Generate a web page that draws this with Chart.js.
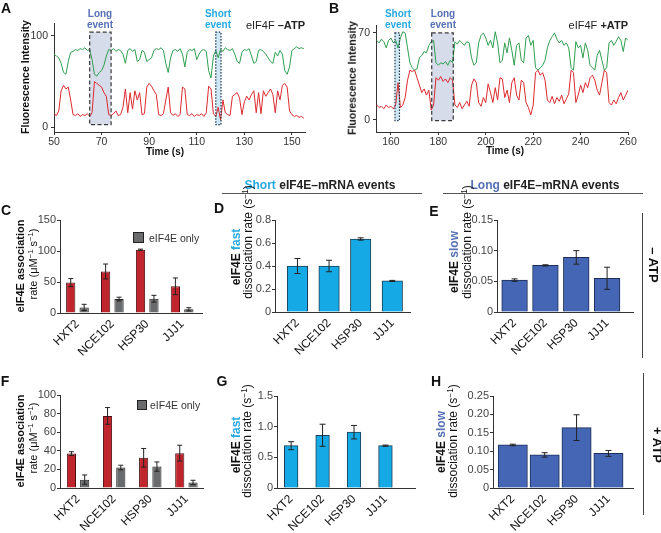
<!DOCTYPE html>
<html>
<head>
<meta charset="utf-8">
<script src="https://cdn.jsdelivr.net/npm/chart.js@4.4.1/dist/chart.umd.min.js"></script>
<style>
  body { margin: 0; background: #fff; font-family: "Liberation Sans", Arial, sans-serif; color: #222; }
  #fig { position: relative; width: 661px; height: 533px; overflow: hidden; }
  #fig canvas { position: absolute; }
  .t { position: absolute; white-space: nowrap; line-height: 1; }
  .t sup { font-size: 0.7em; line-height: 0; vertical-align: 0.45em; }
  .hr { position: absolute; height: 0; border-top: 1.5px solid #555; }
  .vr { position: absolute; width: 0; border-left: 1.5px solid #444; }
  .sq { position: absolute; background: #6a6b6d; border: 1px solid #222; box-sizing: border-box; }
</style>
</head>
<body>
<div id="fig"></div>
<script>
// ---- trace data (1 sample per second) ----
const traceA_t0 = 50;
const traceA_green = [
  80, 78, 76, 70, 60, 58, 72, 82, 83, 85,
  84, 86, 85, 87, 84, 85, 74, 58, 56, 60,
  62, 68, 78, 85, 84, 86, 83, 85, 84, 80,
  70, 84, 86, 83, 85, 72, 74, 84, 82, 72,
  74, 76, 84, 86, 85, 87, 84, 70, 60, 76,
  84, 85, 83, 86, 80, 66, 82, 85, 84, 86,
  74, 80, 84, 85, 83, 62, 54, 78, 84, 76,
  85, 83, 87, 85, 84, 86, 80, 72, 70, 82,
  85, 84, 86, 78, 70, 72, 84, 85, 83, 80,
  76, 72, 70, 82, 78, 84, 80, 62, 58, 66,
  84, 86, 88, 86, 87, 86
];
const traceA_red = [
  15, 13, 18, 40, 46, 42, 44, 30, 14, 13,
  15, 12, 14, 13, 15, 12, 16, 50, 48, 46,
  44, 38, 34, 14, 13, 15, 18, 13, 14, 22,
  42, 16, 38, 20, 40, 30, 38, 14, 15, 44,
  48, 45, 40, 36, 14, 13, 15, 30, 44, 16,
  13, 15, 12, 14, 44, 42, 14, 13, 15, 12,
  14, 13, 15, 12, 16, 45, 42, 15, 12, 22,
  8, 30, 16, 14, 13, 34, 36, 38, 32, 14,
  28, 34, 30, 36, 40, 16, 38, 15, 40, 34,
  38, 42, 36, 16, 40, 30, 46, 48, 44, 18,
  14, 12, 13, 11, 12, 10
];
const traceB_t0 = 154;
const traceB_green = [
  64, 62, 65, 63, 58, 64,
  66, 62, 64, 58, 66, 71, 70, 58, 46, 42,
  40, 41, 50, 52, 55, 54, 60, 63, 64, 46,
  44, 46, 45, 47, 44, 48, 46, 63, 61, 64,
  62, 60, 63, 62, 50, 44, 46, 62, 68, 70,
  66, 60, 64, 58, 71, 62, 46, 48, 62, 54,
  66, 56, 44, 60, 62, 48, 46, 66, 68, 60,
  64, 42, 40, 42, 44, 48, 58, 64, 67, 70,
  65, 62, 64, 60, 62, 58, 42, 40, 63, 58,
  60, 50, 62, 56, 44, 42, 40, 52, 56, 48,
  40, 42, 62, 64, 60, 63, 67, 64, 55, 66,
  64
];
const traceB_red = [
  12, 10, 11, 9, 12, 10,
  11, 9, 12, 30, 10, 12, 18, 32, 40, 39,
  40, 34, 28, 22, 25, 20, 24, 8, 12, 34,
  32, 35, 31, 33, 30, 34, 32, 12, 10, 14,
  9, 12, 15, 11, 28, 33, 30, 14, 11, 18,
  14, 29, 22, 14, 26, 16, 34, 33, 18, 24,
  14, 30, 34, 20, 16, 32, 30, 14, 10, 4,
  12, 38, 40, 36, 38, 32, 16, 14, 19, 13,
  18, 15, 20, 13, 17, 21, 40, 38, 14, 20,
  28, 22, 30, 26, 34, 36, 32, 24, 20, 30,
  40, 38, 14, 12, 16, 13, 18, 22, 16, 20,
  24
];
// event windows (s) and their intensity span
const longEventA = [65, 74];
const shortEventA = [118, 120.2];
const eventSpanA = [3, 104];
const longEventB = [177.2, 186.3];
const shortEventB = [161.7, 163.6];
const eventSpanB = [-0.5, 70];

const ticksA_x = [50, 70, 90, 110, 130, 150];
const ticksA_y = [0, 100];
const ticksB_x = [160, 180, 200, 220, 240, 260];
const ticksB_y = [0, 70];

// ---- bar data ----
const genes = ['HXT2', 'NCE102', 'HSP30', 'JJJ1'];

const assocMinusATP = [49, 67, 102, 43];
const assocMinusATP_err = [6.5, 12, 1, 13.5];
const assocOnlyMinus = [9, 22.5, 23, 6];
const assocOnlyMinus_err = [5, 3, 5.5, 2.5];

const fastMinusATP = [0.40, 0.40, 0.635, 0.27];
const fastMinusATP_err = [0.065, 0.05, 0.01, 0.005];
const slowMinusATP = [0.052, 0.076, 0.089, 0.055];
const slowMinusATP_err = [0.002, 0.001, 0.011, 0.018];

const assocPlusATP = [37, 77.5, 32.5, 37.5];
const assocPlusATP_err = [2, 9, 10, 8.5];
const assocOnlyPlus = [9, 22, 23, 6];
const assocOnlyPlus_err = [5, 2.5, 5, 2.3];

const fastPlusATP = [0.69, 0.86, 0.91, 0.69];
const fastPlusATP_err = [0.065, 0.18, 0.11, 0.01];
const slowPlusATP = [0.117, 0.090, 0.164, 0.094];
const slowPlusATP_err = [0.002, 0.006, 0.035, 0.008];

const ticksC = [0, 50, 100, 150];
const ticksD = [0, 0.2, 0.4, 0.6, 0.8];
const ticksE = [0, 0.05, 0.10, 0.15];
const ticksF = [0, 20, 40, 60, 80, 100];
const ticksG = [0, 0.5, 1.0, 1.5];
const ticksH = [0, 0.05, 0.10, 0.15, 0.20, 0.25];

// ---- colours ----
const GREEN = '#2f9e4f', RED = '#dc2a2e';
const CYAN = '#27a9e1', SLATE = '#5570b5';
const BAR_RED = '#c0242c', BAR_GRAY = '#6a6b6d', BAR_CYAN = '#15aae5', BAR_SLATE = '#4566b4';

Chart.defaults.font.family = '"Liberation Sans", Arial, sans-serif';
Chart.defaults.color = '#333';

const fig = document.getElementById('fig');

function txt(html, x, y, o = {}) {
  const d = document.createElement('div');
  d.className = 't';
  d.innerHTML = html;
  d.style.left = x + 'px';
  d.style.top = y + 'px';
  d.style.fontSize = (o.size || 11) + 'px';
  if (o.bold) d.style.fontWeight = 'bold';
  if (o.color) d.style.color = o.color;
  const ax = o.align === 'left' ? '0' : o.align === 'right' ? '-100%' : '-50%';
  d.style.transform = `translate(${ax},-50%)` + (o.rot ? ` rotate(${o.rot}deg)` : '');
  fig.appendChild(d);
}

function makeCanvas(box) {
  const c = document.createElement('canvas');
  c.width = box.w; c.height = box.h;
  c.style.left = box.left + 'px'; c.style.top = box.top + 'px';
  fig.appendChild(c);
  return c;
}

// fixes the chart area inside a canvas box
function fitArea(box, area) {
  return {
    padding: { left: 0, top: area.top - box.top, right: box.left + box.w - area.right, bottom: 0 },
    x: s => { s.height = box.top + box.h - area.bottom; },
    y: s => { s.width = area.left - box.left; }
  };
}

const eventBoxes = {
  id: 'eventBoxes',
  beforeDatasetsDraw(chart, args, opts) {
    const { x, y } = chart.scales, ctx = chart.ctx;
    opts.boxes.forEach(b => {
      const x0 = x.getPixelForValue(b.range[0]), x1 = x.getPixelForValue(b.range[1]);
      const y0 = y.getPixelForValue(b.span[1]), y1 = y.getPixelForValue(b.span[0]);
      ctx.save();
      ctx.fillStyle = b.fill;
      ctx.fillRect(x0, y0, x1 - x0, y1 - y0);
      ctx.restore();
    });
  },
  afterDatasetsDraw(chart, args, opts) {
    const { x, y } = chart.scales, ctx = chart.ctx;
    opts.boxes.forEach(b => {
      const x0 = x.getPixelForValue(b.range[0]), x1 = x.getPixelForValue(b.range[1]);
      const y0 = y.getPixelForValue(b.span[1]), y1 = y.getPixelForValue(b.span[0]);
      ctx.save();
      ctx.strokeStyle = b.stroke;
      ctx.lineWidth = 1.2;
      ctx.setLineDash(b.dash);
      ctx.strokeRect(x0, y0, x1 - x0, y1 - y0);
      ctx.restore();
    });
  }
};

const errorBars = {
  id: 'errorBars',
  afterDatasetsDraw(chart, args, opts) {
    const ctx = chart.ctx, yS = chart.scales.y;
    chart.data.datasets.forEach((ds, di) => {
      const meta = chart.getDatasetMeta(di);
      meta.data.forEach((bar, i) => {
        const v = ds.data[i].y, e = ds.errors[i];
        const top = yS.getPixelForValue(v + e), bot = yS.getPixelForValue(v - e);
        ctx.save();
        ctx.strokeStyle = '#222';
        ctx.lineWidth = 1;
        ctx.beginPath();
        ctx.moveTo(bar.x, top); ctx.lineTo(bar.x, bot);
        ctx.moveTo(bar.x - opts.cap, top); ctx.lineTo(bar.x + opts.cap, top);
        ctx.moveTo(bar.x - opts.cap, bot); ctx.lineTo(bar.x + opts.cap, bot);
        ctx.stroke();
        ctx.restore();
      });
    });
  }
};

function toPoints(t0, values) {
  return values.map((v, i) => ({ x: t0 + i, y: v }));
}

function traceChart(cfg) {
  const fit = fitArea(cfg.box, cfg.area);
  new Chart(makeCanvas(cfg.box), {
    type: 'line',
    data: {
      datasets: [
        { data: toPoints(cfg.t0, cfg.red), borderColor: RED, borderWidth: 1, pointRadius: 0, tension: 0 },
        { data: toPoints(cfg.t0, cfg.green), borderColor: GREEN, borderWidth: 1, pointRadius: 0, tension: 0 }
      ]
    },
    options: {
      responsive: false, animation: false, events: [],
      layout: { padding: fit.padding },
      plugins: { legend: { display: false }, tooltip: { enabled: false }, eventBoxes: { boxes: cfg.boxes } },
      scales: {
        x: {
          type: 'linear', min: cfg.xr[0], max: cfg.xr[1],
          afterBuildTicks: s => { s.ticks = cfg.xticks.map(v => ({ value: v })); },
          afterFit: fit.x,
          grid: { drawOnChartArea: false, tickLength: 3, color: '#333' },
          border: { color: '#333' },
          ticks: { font: { size: 10.5 }, color: '#333', padding: 1, maxRotation: 0 }
        },
        y: {
          min: cfg.yr[0], max: cfg.yr[1],
          afterBuildTicks: s => { s.ticks = cfg.yticks.map(v => ({ value: v })); },
          afterFit: fit.y,
          grid: { drawOnChartArea: false, tickLength: 3, color: '#333' },
          border: { color: '#333' },
          ticks: { font: { size: 10.5 }, color: '#333', padding: 3 }
        }
      }
    },
    plugins: [eventBoxes]
  });
}

function barChart(cfg) {
  const fit = fitArea(cfg.box, cfg.area);
  new Chart(makeCanvas(cfg.box), {
    type: 'bar',
    data: {
      datasets: cfg.series.map(s => Object.assign({
        data: s.values.map((v, i) => ({ x: i, y: v })),
        errors: s.errors,
        backgroundColor: s.color,
        borderColor: s.edge,
        borderWidth: 1
      }, cfg.barOpts))
    },
    options: {
      responsive: false, animation: false, events: [],
      layout: { padding: fit.padding },
      plugins: { legend: { display: false }, tooltip: { enabled: false }, errorBars: { cap: cfg.cap } },
      scales: {
        x: {
          type: 'linear', offset: false, min: cfg.xr[0], max: cfg.xr[1],
          afterBuildTicks: s => { s.ticks = genes.map((g, i) => ({ value: i })); },
          afterFit: fit.x,
          grid: { offset: false, drawOnChartArea: false, drawTicks: false },
          border: { color: '#333' },
          ticks: { callback: v => genes[v], autoSkip: false, minRotation: 45, maxRotation: 45, color: '#111', font: { size: 12 }, padding: 4 }
        },
        y: {
          min: 0, max: cfg.yticks[cfg.yticks.length - 1],
          afterBuildTicks: s => { s.ticks = cfg.yticks.map(v => ({ value: v })); },
          afterFit: fit.y,
          grid: { drawOnChartArea: false, tickLength: 3, color: '#333' },
          border: { color: '#333' },
          ticks: { callback: v => v === 0 ? '0' : v.toFixed(cfg.dec), color: '#444', font: { size: 11 }, padding: 1 }
        }
      }
    },
    plugins: [errorBars]
  });
}

// ---- A / B traces ----
const longStyle = { fill: '#d7dcea', stroke: '#3a3a3a', dash: [4, 2.5] };
const shortStyle = { fill: '#cde8f4', stroke: '#1f3550', dash: [1.5, 1.5] };

traceChart({
  box: { left: 0, top: 0, w: 320, h: 162 }, area: { left: 54, top: 23, right: 305, bottom: 132 },
  xr: [50, 155.5], yr: [-5, 114], xticks: ticksA_x, yticks: ticksA_y,
  t0: traceA_t0, green: traceA_green, red: traceA_red,
  boxes: [
    Object.assign({ range: longEventA, span: eventSpanA }, longStyle),
    Object.assign({ range: shortEventA, span: eventSpanA }, shortStyle)
  ]
});
traceChart({
  box: { left: 330, top: 0, w: 331, h: 162 }, area: { left: 376, top: 25, right: 628, bottom: 132 },
  xr: [153.7, 260], yr: [-9.7, 76.4], xticks: ticksB_x, yticks: ticksB_y,
  t0: traceB_t0, green: traceB_green, red: traceB_red,
  boxes: [
    Object.assign({ range: longEventB, span: eventSpanB }, longStyle),
    Object.assign({ range: shortEventB, span: eventSpanB }, shortStyle)
  ]
});

// ---- C - H bars ----
const pairOpts = { categoryPercentage: 0.77, barPercentage: 0.69 };

barChart({
  box: { left: 0, top: 200, w: 215, h: 162 }, area: { left: 60, top: 220, right: 202, bottom: 313 },
  xr: [-0.5, 3.57], yticks: ticksC, dec: 0, cap: 2.5, barOpts: pairOpts,
  series: [
    { values: assocMinusATP, errors: assocMinusATP_err, color: BAR_RED, edge: '#4a1014' },
    { values: assocOnlyMinus, errors: assocOnlyMinus_err, color: BAR_GRAY, edge: '#222' }
  ]
});
barChart({
  box: { left: 215, top: 200, w: 215, h: 162 }, area: { left: 275, top: 220, right: 410, bottom: 312 },
  xr: [-0.71, 3.56], yticks: ticksD, dec: 1, cap: 3, barOpts: { barThickness: 20.5 },
  series: [{ values: fastMinusATP, errors: fastMinusATP_err, color: BAR_CYAN, edge: '#1c3d52' }]
});
barChart({
  box: { left: 430, top: 200, w: 210, h: 162 }, area: { left: 497, top: 220, right: 633, bottom: 312 },
  xr: [-0.57, 3.84], yticks: ticksE, dec: 2, cap: 3, barOpts: { barThickness: 25.7 },
  series: [{ values: slowMinusATP, errors: slowMinusATP_err, color: BAR_SLATE, edge: '#1d2d55' }]
});
barChart({
  box: { left: 0, top: 375, w: 215, h: 158 }, area: { left: 60, top: 395, right: 203, bottom: 488 },
  xr: [-0.5, 3.46], yticks: ticksF, dec: 0, cap: 2.5, barOpts: { categoryPercentage: 0.735, barPercentage: 0.69 },
  series: [
    { values: assocPlusATP, errors: assocPlusATP_err, color: BAR_RED, edge: '#4a1014' },
    { values: assocOnlyPlus, errors: assocOnlyPlus_err, color: BAR_GRAY, edge: '#222' }
  ]
});
barChart({
  box: { left: 215, top: 375, w: 215, h: 158 }, area: { left: 277, top: 396, right: 415, bottom: 488 },
  xr: [-0.45, 3.94], yticks: ticksG, dec: 1, cap: 3, barOpts: { barThickness: 13.7 },
  series: [{ values: fastPlusATP, errors: fastPlusATP_err, color: BAR_CYAN, edge: '#1c3d52' }]
});
barChart({
  box: { left: 430, top: 375, w: 210, h: 158 }, area: { left: 493, top: 396, right: 633, bottom: 488 },
  xr: [-0.62, 3.77], yticks: ticksH, dec: 2, cap: 3, barOpts: { barThickness: 29.3 },
  series: [{ values: slowPlusATP, errors: slowPlusATP_err, color: BAR_SLATE, edge: '#1d2d55' }]
});

// ---- text and decorations ----
const L = { size: 14, bold: true, color: '#111' };
txt('A', 6, 8, L); txt('B', 334, 8, L);
txt('C', 6, 210, L); txt('D', 219, 208, L); txt('E', 434, 211, L);
txt('F', 5, 381, L); txt('G', 222, 381, L); txt('H', 436, 381, L);

const ev = c => ({ size: 10, bold: true, color: c });
txt('Long', 100, 14, ev(SLATE)); txt('event', 100, 25, ev(SLATE));
txt('Short', 218, 14, ev(CYAN)); txt('event', 218, 25, ev(CYAN));
txt('Short', 398, 14, ev(CYAN)); txt('event', 398, 25, ev(CYAN));
txt('Long', 443, 14, ev(SLATE)); txt('event', 443, 25, ev(SLATE));
txt('eIF4F <b>–ATP</b>', 305, 25, { size: 11, align: 'right' });
txt('eIF4F <b>+ATP</b>', 628, 25, { size: 11, align: 'right' });

const yl = { size: 10.5, bold: true, rot: -90, color: '#111' };
txt('Fluorescence Intensity', 25, 77, yl);
txt('Fluorescence Intensity', 352, 78, yl);
txt('Time (s)', 165, 152, { size: 10, bold: true, color: '#111' });
txt('Time (s)', 505, 151, { size: 10, bold: true, color: '#111' });

txt(`<span style="color:${CYAN}">Short</span> eIF4E–mRNA events`, 320, 185, { size: 12, bold: true });
txt(`<span style="color:${SLATE}">Long</span> eIF4E–mRNA events`, 545, 185, { size: 12, bold: true });

function rule(cls, x, y, len) {
  const d = document.createElement('div');
  d.className = cls;
  d.style.left = x + 'px'; d.style.top = y + 'px';
  if (cls === 'hr') d.style.width = len + 'px'; else d.style.height = len + 'px';
  fig.appendChild(d);
}
rule('hr', 222, 193, 200);
rule('hr', 443, 193, 200);
rule('vr', 642, 213, 145);
rule('vr', 643, 373, 142);
txt('– ATP', 653, 265, { size: 13, bold: true, rot: 90, color: '#111' });
txt('+ ATP', 657, 445, { size: 13, bold: true, rot: 90, color: '#111' });

const y1 = { size: 11, bold: true, rot: -90, color: '#111' };
const y2 = { size: 11, rot: -90, color: '#111' };
txt('eIF4E association', 20, 266, y1);
txt('rate (μM<sup>−1</sup> s<sup>−1</sup>)', 33, 264, y2);
txt('eIF4E association', 20, 441, y1);
txt('rate (μM<sup>−1</sup> s<sup>−1</sup>)', 33, 438, y2);

const z1 = { size: 12, bold: true, rot: -90, color: '#111' };
const z2 = { size: 12, rot: -90, color: '#111' };
txt(`eIF4E <span style="color:${CYAN}">fast</span>`, 236, 257, z1);
txt('dissociation rate (s<sup>−1</sup>)', 247.5, 242, z2);
txt(`eIF4E <span style="color:${SLATE}">slow</span>`, 454, 262, z1);
txt('dissociation rate (s<sup>−1</sup>)', 467, 242, z2);
txt(`eIF4E <span style="color:${CYAN}">fast</span>`, 236, 445, z1);
txt('dissociation rate (s<sup>−1</sup>)', 247, 441, z2);
txt(`eIF4E <span style="color:${SLATE}">slow</span>`, 441, 442, z1);
txt('dissociation rate (s<sup>−1</sup>)', 453, 441, z2);

function legendBox(x, y, s) {
  const d = document.createElement('div');
  d.className = 'sq';
  d.style.left = x + 'px'; d.style.top = y + 'px';
  d.style.width = s + 'px'; d.style.height = s + 'px';
  fig.appendChild(d);
}
legendBox(133, 232, 11);
txt('eIF4E only', 149, 237.5, { size: 10.5, align: 'left', color: '#333' });
legendBox(137, 400, 10);
txt('eIF4E only', 150, 405, { size: 10.5, align: 'left', color: '#333' });
</script>
</body>
</html>
